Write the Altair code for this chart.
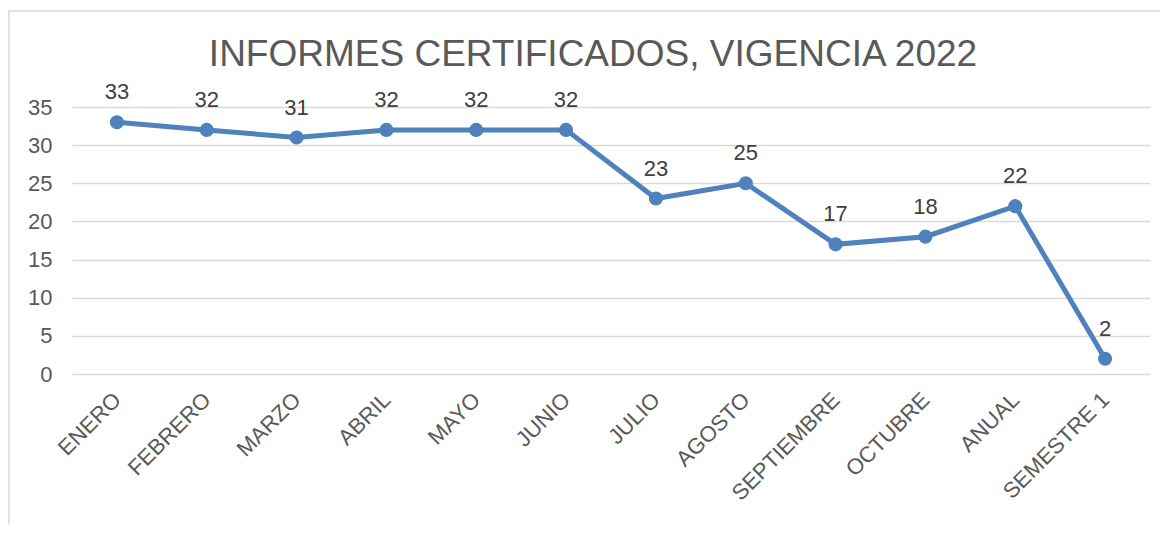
import altair as alt
import pandas as pd

categories = ["ENERO", "FEBRERO", "MARZO", "ABRIL", "MAYO", "JUNIO", "JULIO",
              "AGOSTO", "SEPTIEMBRE", "OCTUBRE", "ANUAL", "SEMESTRE 1"]
values = [33, 32, 31, 32, 32, 32, 23, 25, 17, 18, 22, 2]
title_text = "INFORMES CERTIFICADOS, VIGENCIA 2022"

df = pd.DataFrame({"mes": categories, "valor": values})

FONT = "Liberation Sans"
BLUE = "#4f81bd"
GREY = "#595959"

x_enc = alt.X("mes:N", sort=categories, title=None,
              scale=alt.Scale(padding=0.5),
              axis=alt.Axis(labelAngle=-45, labelAlign="right", labelBaseline="middle",
                            labelPadding=22, labelFontSize=22, labelColor=GREY,
                            labelFont=FONT, domain=False, ticks=False, grid=False,
                            labelOverlap=False))
y_enc = alt.Y("valor:Q", title=None,
              scale=alt.Scale(domain=[0, 35], nice=False),
              axis=alt.Axis(values=[0, 5, 10, 15, 20, 25, 30, 35], labelFontSize=22,
                            labelColor=GREY, labelFont=FONT, labelPadding=20,
                            domain=False, ticks=False, gridColor="#d9d9d9",
                            gridWidth=1.5))

base = alt.Chart(df)

frame = base.mark_rect(fill=None, stroke="#d9d9d9", strokeWidth=1.5, clip=False).encode(
    x=alt.value(-63), x2=alt.value(1120), y=alt.value(-96), y2=alt.value(450)
).transform_filter(alt.datum.mes == "ENERO")

line = base.mark_line(color=BLUE, strokeWidth=5).encode(x=x_enc, y=y_enc)
pts = base.mark_point(filled=True, color=BLUE, size=200, opacity=1).encode(x=x_enc, y=y_enc)
labels = base.mark_text(font=FONT, fontSize=22, color="#404040", baseline="bottom", dy=-18).encode(
    x=x_enc, y=y_enc, text="valor:Q")

chart = alt.layer(frame, line, pts, labels).properties(
    width=1078, height=267,
    title=alt.TitleParams(title_text, font=FONT, fontSize=37, fontWeight="normal",
                          color=GREY, anchor="middle", dx=-18, offset=-93,
                          frame="group", baseline="alphabetic"),
    autosize=alt.AutoSizeParams(type="none"),
    padding={"left": 64, "top": 99, "right": 10, "bottom": 150},
).configure_view(stroke=None)

chart.save("out.html", embed_options={"renderer": "svg", "actions": False})
